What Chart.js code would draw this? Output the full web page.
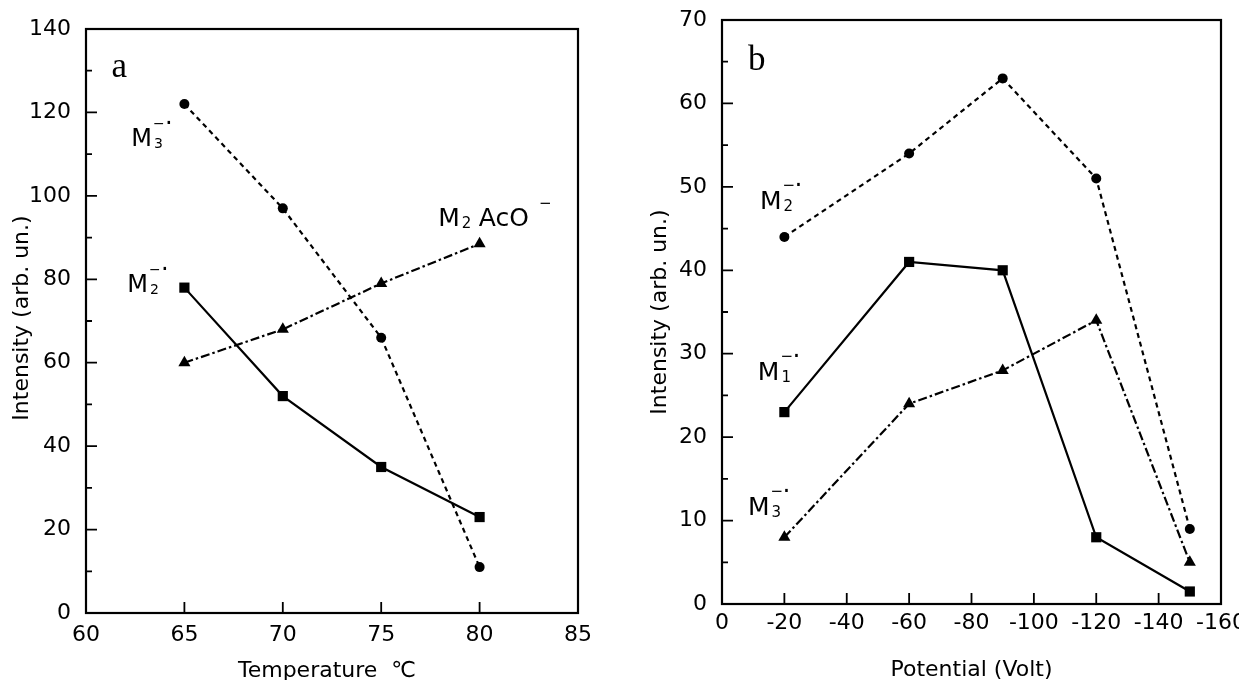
<!DOCTYPE html>
<html>
<head>
<meta charset="utf-8">
<script src="https://cdn.jsdelivr.net/npm/chart.js@4.4.1/dist/chart.umd.min.js"></script>
<style>
  html, body { margin: 0; padding: 0; background: #fff; overflow: hidden; }
  body { width: 1239px; height: 680px; position: relative; }
  canvas { position: absolute; top: 0; }
  #chartA { left: 0; }
  #chartB { left: 640px; }
</style>
</head>
<body>
<canvas id="chartA" width="620" height="680"></canvas>
<canvas id="chartB" width="599" height="680"></canvas>
<script>
// panel a : intensity vs temperature
const tempValues = [65, 70, 75, 80];
const tempM3 = [122, 97, 66, 11];
const tempM2 = [78, 52, 35, 23];
const tempM2AcO = [60, 68, 79, 88.5];

// panel b : intensity vs potential
const potValues = [-20, -60, -90, -120, -150];
const potM2 = [44, 54, 63, 51, 9];
const potM1 = [23, 41, 40, 8, 1.5];
const potM3 = [8, 24, 28, 34, 5];

const sans = '"DejaVu Sans", "Liberation Sans", sans-serif';
const serif = '"Liberation Serif", "DejaVu Serif", serif';

const zip = (xs, ys) => xs.map((x, i) => ({ x: x, y: ys[i] }));

const styles = {
  dashed:  { borderDash: [5, 4], pointStyle: 'circle', pointRadius: 5 },
  solid:   { borderDash: [], pointStyle: 'rect', pointRadius: 7.2 },
  dashdot: { borderDash: [9, 3, 2.5, 3], pointStyle: 'triangle', pointRadius: 7 }
};

function series(data, kind) {
  const s = styles[kind];
  return {
    data: data,
    borderColor: '#000',
    backgroundColor: '#000',
    borderWidth: 2.2,
    borderDash: s.borderDash,
    pointStyle: s.pointStyle,
    pointRadius: s.pointRadius,
    pointBorderWidth: 0,
    pointBackgroundColor: '#000',
    tension: 0
  };
}

// "M" with subscript, optional superscript minus and radical dot
function drawIon(ctx, x, y, l) {
  const size = l.size;
  ctx.textAlign = 'left';
  ctx.textBaseline = 'alphabetic';
  ctx.font = size + 'px ' + sans;
  ctx.fillText('M', x, y);
  const mw = ctx.measureText('M').width;
  const small = Math.round(size * 0.6);
  ctx.font = small + 'px ' + sans;
  const sx = x + mw + 2;
  ctx.fillText(l.sub, sx, y + 2);
  if (l.tail) {
    ctx.font = size + 'px ' + sans;
    const tx = sx + 17;
    ctx.fillText(l.tail, tx, y);
    const tw = ctx.measureText(l.tail).width;
    ctx.font = small + 'px ' + sans;
    ctx.fillText('−', tx + tw + 10, y - size * 0.72);
    return;
  }
  ctx.fillText('−', sx - 1, y - size * 0.74);
  ctx.font = size + 'px ' + sans;
  ctx.fillText('·', sx + 11, y - size * 0.62);
}

const framePlugin = {
  id: 'frame',
  afterDatasetsDraw(chart, args, o) {
    const { ctx, chartArea: a } = chart;
    const xs = chart.scales.x, ys = chart.scales.y;
    ctx.save();
    ctx.fillStyle = '#000';
    ctx.strokeStyle = '#000';
    ctx.lineWidth = 2.2;
    ctx.strokeRect(a.left, a.top, a.right - a.left, a.bottom - a.top);

    // inward tick marks
    ctx.lineWidth = 1.8;
    ctx.beginPath();
    for (let v = ys.min; v <= ys.max + 1e-9; v += o.yMinor) {
      const py = ys.getPixelForValue(v);
      const major = Math.abs(v / o.yStep - Math.round(v / o.yStep)) < 1e-6;
      ctx.moveTo(a.left, py);
      ctx.lineTo(a.left + (major ? 11 : 6), py);
    }
    xs.ticks.forEach(t => {
      const px = xs.getPixelForValue(t.value);
      ctx.moveTo(px, a.bottom);
      ctx.lineTo(px, a.bottom - 11);
    });
    ctx.stroke();

    // axis titles
    ctx.font = '22px ' + sans;
    ctx.textAlign = 'center';
    ctx.textBaseline = 'alphabetic';
    ctx.fillText(o.xTitle, (a.left + a.right) / 2 + o.xTitleShift, o.xTitleY);
    ctx.save();
    ctx.translate(o.yTitleX, (a.top + a.bottom) / 2 + o.yTitleShift);
    ctx.rotate(-Math.PI / 2);
    ctx.textBaseline = 'middle';
    ctx.fillText('Intensity (arb. un.)', 0, 0);
    ctx.restore();

    // panel letter
    ctx.font = '35px ' + serif;
    ctx.textAlign = 'left';
    ctx.fillText(o.letter.text, xs.getPixelForValue(o.letter.x), ys.getPixelForValue(o.letter.y));

    // series labels
    o.ions.forEach(l => {
      drawIon(ctx, xs.getPixelForValue(l.x), ys.getPixelForValue(l.y), l);
    });
    ctx.restore();
  }
};

function axes(xOpt, yOpt, xHeight, yWidth, xPad) {
  return {
    x: Object.assign({
      type: 'linear',
      grid: { display: false, drawTicks: false },
      border: { display: false },
      ticks: { color: '#000', font: { family: sans, size: 22 }, padding: xPad, maxRotation: 0 },
      afterFit(s) { s.height = xHeight; s.paddingLeft = 0; s.paddingRight = 0; }
    }, xOpt),
    y: Object.assign({
      type: 'linear',
      grid: { display: false, drawTicks: false },
      border: { display: false },
      ticks: { color: '#000', font: { family: sans, size: 22 }, padding: 15 },
      afterFit(s) { s.width = yWidth; s.paddingTop = 0; s.paddingBottom = 0; }
    }, yOpt)
  };
}

const baseOptions = {
  responsive: false,
  animation: false,
  events: [],
  plugins: { legend: { display: false }, tooltip: { enabled: false } }
};

// ---- panel a
const scalesA = axes({ min: 60, max: 85 }, { min: 0, max: 140 }, 67, 86, 9);
scalesA.x.ticks.stepSize = 5;
scalesA.y.ticks.stepSize = 20;

new Chart(document.getElementById('chartA'), {
  type: 'line',
  data: {
    datasets: [
      series(zip(tempValues, tempM3), 'dashed'),
      series(zip(tempValues, tempM2), 'solid'),
      series(zip(tempValues, tempM2AcO), 'dashdot')
    ]
  },
  options: Object.assign({}, baseOptions, {
    layout: { padding: { top: 29, right: 42, left: 0, bottom: 0 } },
    scales: scalesA,
    plugins: Object.assign({}, baseOptions.plugins, {
      frame: {
        yStep: 20, yMinor: 10,
        xTitle: 'Temperature  ℃', xTitleY: 677, xTitleShift: -5,
        yTitleX: 22, yTitleShift: -3,
        letter: { text: 'a', x: 61.3, y: 128.5 },
        ions: [
          { x: 62.3, y: 112, sub: '3', size: 24 },
          { x: 62.1, y: 77, sub: '2', size: 24 },
          { x: 77.9, y: 92.8, sub: '2', size: 25, tail: 'AcO' }
        ]
      }
    })
  }),
  plugins: [framePlugin]
});

// ---- panel b
const scalesB = axes({ min: -160, max: 0, reverse: true }, { min: 0, max: 70 }, 76, 82, 6);
scalesB.x.ticks.stepSize = 20;
scalesB.y.ticks.stepSize = 10;

new Chart(document.getElementById('chartB'), {
  type: 'line',
  data: {
    datasets: [
      series(zip(potValues, potM2), 'dashed'),
      series(zip(potValues, potM1), 'solid'),
      series(zip(potValues, potM3), 'dashdot')
    ]
  },
  options: Object.assign({}, baseOptions, {
    layout: { padding: { top: 20, right: 18, left: 0, bottom: 0 } },
    scales: scalesB,
    plugins: Object.assign({}, baseOptions.plugins, {
      frame: {
        yStep: 10, yMinor: 5,
        xTitle: 'Potential (Volt)', xTitleY: 676, xTitleShift: 0,
        yTitleX: 20, yTitleShift: 0,
        letter: { text: 'b', x: -8.3, y: 64 },
        ions: [
          { x: -12.2, y: 47.4, sub: '2', size: 25 },
          { x: -11.5, y: 26.9, sub: '1', size: 25 },
          { x: -8.3, y: 10.7, sub: '3', size: 25 }
        ]
      }
    })
  }),
  plugins: [framePlugin]
});
</script>
</body>
</html>
